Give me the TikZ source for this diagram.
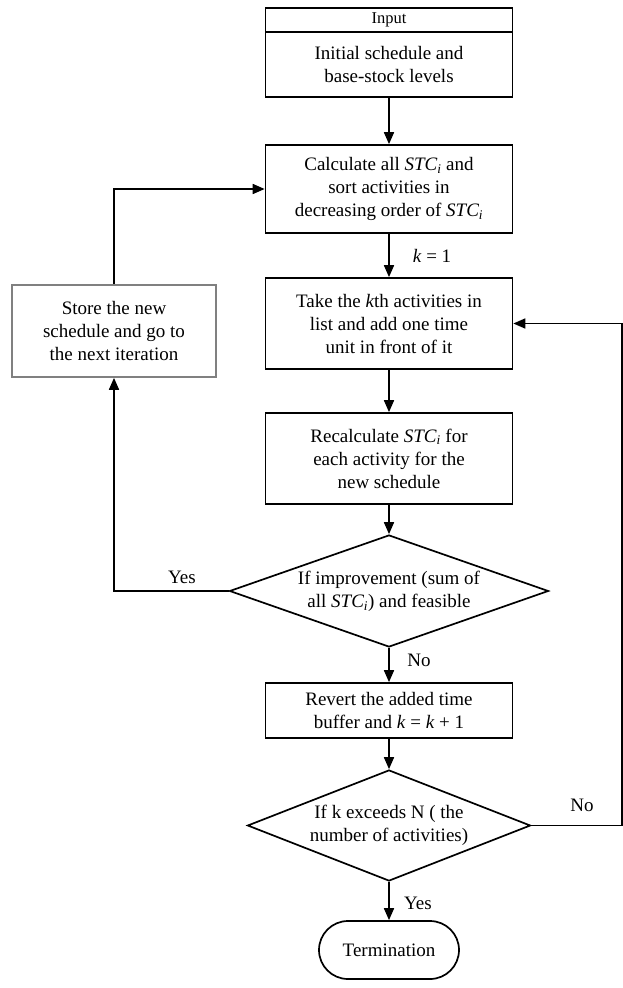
\documentclass[tikz,border=0pt]{standalone}
\usepackage{fontspec}
\setmainfont{Liberation Serif}
\usetikzlibrary{shapes.geometric,arrows.meta}
\tikzset{
  base/.style={font=\fontsize{19}{23}\selectfont, align=center, inner sep=0pt},
  procbox/.style={base, draw, line width=1.7pt, minimum width=247pt},
  graybox/.style={base, draw=black!50, line width=1.7pt, minimum width=204pt, minimum height=92pt},
  dia/.style={draw, diamond, line width=1.7pt, inner sep=0pt},
  termbox/.style={base, draw, line width=1.7pt, rounded corners=29pt, minimum width=140pt, minimum height=58pt},
  lbl/.style={font=\fontsize{19}{23}\selectfont, inner sep=0pt},
  conn/.style={line width=1.7pt, -{Triangle[length=12pt,width=10pt]}}
}
\begin{document}
\begin{tikzpicture}[x=1pt,y=-1pt]
\useasboundingbox (0,0) rectangle (623,988);
% boxes
\node[procbox, minimum height=24pt, font=\fontsize{16.5}{20}\selectfont] (inp) at (389,20) {Input};
\node[procbox, minimum height=65pt] (init) at (389,64.5) {Initial schedule and\\base-stock levels};
\node[procbox, minimum height=88pt] (calc) at (389,189) {Calculate all \textit{STC\textsubscript{i}} and\\sort activities in\\decreasing order of \textit{STC\textsubscript{i}}};
\node[procbox, minimum height=91pt] (take) at (389,323.5) {Take the \textit{k}th activities in\\list and add one time\\unit in front of it};
\node[graybox] (store) at (114,331) {Store the new\\schedule and go to\\the next iteration};
\node[procbox, minimum height=91pt] (recalc) at (389,458.5) {Recalculate \textit{STC\textsubscript{i}} for\\each activity for the\\new schedule};
\node[dia, minimum width=319pt, minimum height=112pt] (d1) at (389,591) {};
\node[base] (d1t) at (389,591) {If improvement (sum of\\all \textit{STC\textsubscript{i}}) and feasible};
\node[procbox, minimum height=55pt] (rev) at (389,710.5) {Revert the added time\\buffer and \textit{k} = \textit{k} + 1};
\node[dia, minimum width=283pt, minimum height=111pt] (d2) at (389,825.5) {};
\node[base] (d2t) at (389,825.5) {If k exceeds N ( the\\number of activities)};
\node[termbox] (term) at (389,950) {Termination};
% helper coordinates
\coordinate (c1) at (114,591);
\coordinate (c2) at (114,189);
\coordinate (c3) at (622,825.5);
\coordinate (c4) at (622,323.5);
% connectors
\draw[conn] (init.south) -- (calc.north);
\draw[conn] (calc.south) -- (take.north);
\draw[conn] (take.south) -- (recalc.north);
\draw[conn] (recalc.south) -- (d1.north);
\draw[conn] (d1.west) -- (c1) -- (store.south);
\draw[conn] (store.north) -- (c2) -- (calc.west);
\draw[conn] (d1.south) -- (rev.north);
\draw[conn] (rev.south) -- (d2.north);
\draw[conn] (d2.east) -- (c3) -- (c4) -- (take.east);
\draw[conn] (d2.south) -- (term.north);
% labels
\node[lbl] (lk) at (432,256) {\textit{k} = 1};
\node[lbl] (lyes1) at (182,577) {Yes};
\node[lbl] (lno1) at (419,660) {No};
\node[lbl] (lno2) at (582,805) {No};
\node[lbl] (lyes2) at (418,903) {Yes};
\end{tikzpicture}
\end{document}
